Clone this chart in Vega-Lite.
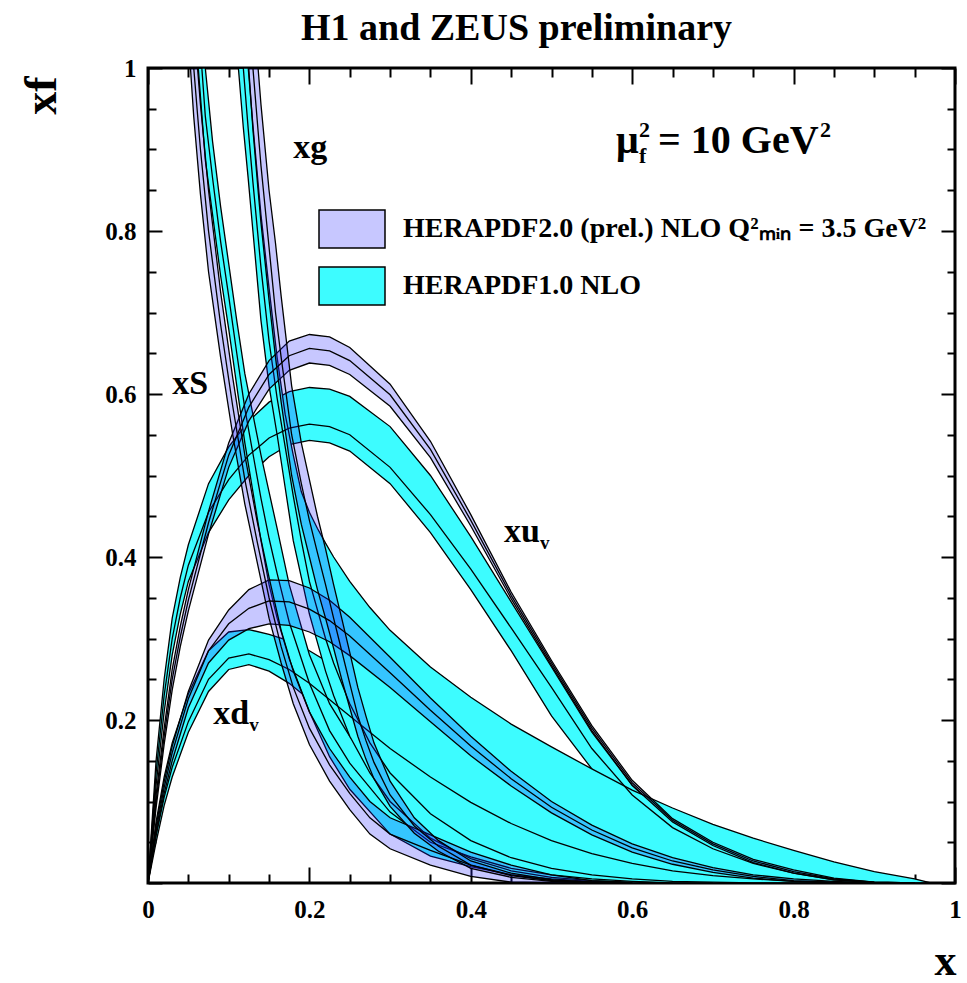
{
"$schema": "https://vega.github.io/schema/vega-lite/v6.json",
"width": 807, "height": 815,
"autosize": {"type": "none"},
"padding": {"left": 148, "top": 68, "right": 12, "bottom": 100},
"background": "white",
"title": {"text": "H1 and ZEUS preliminary", "font": "Liberation Serif", "fontWeight": "bold", "fontSize": 38, "color": "black", "anchor": "middle", "dx": -35, "offset": 8},
"config": {"view": {"stroke": "black", "strokeWidth": 3}, "font": "Liberation Serif"},
"resolve": {"axis": {"x": "independent", "y": "independent"}},
"datasets": {"bands": [
{"pdf":"uv","set":"v2","x":0,"lo":0,"mid":0,"hi":0},
{"pdf":"uv","set":"v2","x":0.01,"lo":0.092,"mid":0.1,"hi":0.108},
{"pdf":"uv","set":"v2","x":0.02,"lo":0.17,"mid":0.18,"hi":0.19},
{"pdf":"uv","set":"v2","x":0.03,"lo":0.237,"mid":0.25,"hi":0.262},
{"pdf":"uv","set":"v2","x":0.04,"lo":0.29,"mid":0.302,"hi":0.315},
{"pdf":"uv","set":"v2","x":0.05,"lo":0.334,"mid":0.347,"hi":0.36},
{"pdf":"uv","set":"v2","x":0.075,"lo":0.428,"mid":0.442,"hi":0.456},
{"pdf":"uv","set":"v2","x":0.1,"lo":0.51,"mid":0.525,"hi":0.54},
{"pdf":"uv","set":"v2","x":0.125,"lo":0.567,"mid":0.584,"hi":0.6},
{"pdf":"uv","set":"v2","x":0.15,"lo":0.606,"mid":0.624,"hi":0.641},
{"pdf":"uv","set":"v2","x":0.175,"lo":0.629,"mid":0.647,"hi":0.665},
{"pdf":"uv","set":"v2","x":0.2,"lo":0.638,"mid":0.656,"hi":0.673},
{"pdf":"uv","set":"v2","x":0.225,"lo":0.635,"mid":0.653,"hi":0.67},
{"pdf":"uv","set":"v2","x":0.25,"lo":0.624,"mid":0.641,"hi":0.657},
{"pdf":"uv","set":"v2","x":0.3,"lo":0.585,"mid":0.599,"hi":0.612},
{"pdf":"uv","set":"v2","x":0.35,"lo":0.522,"mid":0.532,"hi":0.542},
{"pdf":"uv","set":"v2","x":0.4,"lo":0.438,"mid":0.445,"hi":0.452},
{"pdf":"uv","set":"v2","x":0.45,"lo":0.349,"mid":0.353,"hi":0.357},
{"pdf":"uv","set":"v2","x":0.5,"lo":0.267,"mid":0.27,"hi":0.273},
{"pdf":"uv","set":"v2","x":0.55,"lo":0.187,"mid":0.19,"hi":0.193},
{"pdf":"uv","set":"v2","x":0.6,"lo":0.12,"mid":0.123,"hi":0.126},
{"pdf":"uv","set":"v2","x":0.65,"lo":0.075,"mid":0.077,"hi":0.079},
{"pdf":"uv","set":"v2","x":0.7,"lo":0.046,"mid":0.048,"hi":0.05},
{"pdf":"uv","set":"v2","x":0.75,"lo":0.025,"mid":0.027,"hi":0.029},
{"pdf":"uv","set":"v2","x":0.8,"lo":0.012,"mid":0.014,"hi":0.016},
{"pdf":"uv","set":"v2","x":0.85,"lo":0.004,"mid":0.005,"hi":0.006},
{"pdf":"uv","set":"v2","x":0.9,"lo":0,"mid":0.001,"hi":0.001},
{"pdf":"uv","set":"v2","x":0.95,"lo":0,"mid":0,"hi":0},
{"pdf":"uv","set":"v1","x":0,"lo":0,"mid":0,"hi":0},
{"pdf":"uv","set":"v1","x":0.01,"lo":0.12,"mid":0.135,"hi":0.15},
{"pdf":"uv","set":"v1","x":0.02,"lo":0.21,"mid":0.23,"hi":0.25},
{"pdf":"uv","set":"v1","x":0.03,"lo":0.28,"mid":0.3,"hi":0.325},
{"pdf":"uv","set":"v1","x":0.04,"lo":0.33,"mid":0.35,"hi":0.375},
{"pdf":"uv","set":"v1","x":0.05,"lo":0.37,"mid":0.39,"hi":0.415},
{"pdf":"uv","set":"v1","x":0.075,"lo":0.43,"mid":0.455,"hi":0.49},
{"pdf":"uv","set":"v1","x":0.1,"lo":0.47,"mid":0.495,"hi":0.535},
{"pdf":"uv","set":"v1","x":0.125,"lo":0.5,"mid":0.525,"hi":0.567},
{"pdf":"uv","set":"v1","x":0.15,"lo":0.523,"mid":0.546,"hi":0.59},
{"pdf":"uv","set":"v1","x":0.175,"lo":0.538,"mid":0.558,"hi":0.603},
{"pdf":"uv","set":"v1","x":0.2,"lo":0.543,"mid":0.563,"hi":0.608},
{"pdf":"uv","set":"v1","x":0.225,"lo":0.54,"mid":0.56,"hi":0.606},
{"pdf":"uv","set":"v1","x":0.25,"lo":0.53,"mid":0.55,"hi":0.597},
{"pdf":"uv","set":"v1","x":0.3,"lo":0.49,"mid":0.51,"hi":0.56},
{"pdf":"uv","set":"v1","x":0.35,"lo":0.43,"mid":0.452,"hi":0.5},
{"pdf":"uv","set":"v1","x":0.4,"lo":0.36,"mid":0.385,"hi":0.425},
{"pdf":"uv","set":"v1","x":0.45,"lo":0.285,"mid":0.313,"hi":0.345},
{"pdf":"uv","set":"v1","x":0.5,"lo":0.205,"mid":0.24,"hi":0.265},
{"pdf":"uv","set":"v1","x":0.55,"lo":0.14,"mid":0.165,"hi":0.185},
{"pdf":"uv","set":"v1","x":0.6,"lo":0.088,"mid":0.108,"hi":0.12},
{"pdf":"uv","set":"v1","x":0.65,"lo":0.052,"mid":0.068,"hi":0.075},
{"pdf":"uv","set":"v1","x":0.7,"lo":0.03,"mid":0.042,"hi":0.046},
{"pdf":"uv","set":"v1","x":0.75,"lo":0.016,"mid":0.024,"hi":0.026},
{"pdf":"uv","set":"v1","x":0.8,"lo":0.007,"mid":0.012,"hi":0.013},
{"pdf":"uv","set":"v1","x":0.85,"lo":0.002,"mid":0.004,"hi":0.005},
{"pdf":"uv","set":"v1","x":0.9,"lo":0,"mid":0.001,"hi":0.001},
{"pdf":"uv","set":"v1","x":0.95,"lo":0,"mid":0,"hi":0},
{"pdf":"dv","set":"v2","x":0,"lo":0,"mid":0,"hi":0},
{"pdf":"dv","set":"v2","x":0.01,"lo":0.06,"mid":0.065,"hi":0.07},
{"pdf":"dv","set":"v2","x":0.02,"lo":0.11,"mid":0.117,"hi":0.124},
{"pdf":"dv","set":"v2","x":0.03,"lo":0.15,"mid":0.16,"hi":0.168},
{"pdf":"dv","set":"v2","x":0.05,"lo":0.215,"mid":0.226,"hi":0.235},
{"pdf":"dv","set":"v2","x":0.075,"lo":0.27,"mid":0.285,"hi":0.298},
{"pdf":"dv","set":"v2","x":0.1,"lo":0.298,"mid":0.318,"hi":0.335},
{"pdf":"dv","set":"v2","x":0.125,"lo":0.312,"mid":0.337,"hi":0.36},
{"pdf":"dv","set":"v2","x":0.15,"lo":0.318,"mid":0.346,"hi":0.372},
{"pdf":"dv","set":"v2","x":0.175,"lo":0.316,"mid":0.345,"hi":0.371},
{"pdf":"dv","set":"v2","x":0.2,"lo":0.308,"mid":0.336,"hi":0.362},
{"pdf":"dv","set":"v2","x":0.225,"lo":0.296,"mid":0.322,"hi":0.347},
{"pdf":"dv","set":"v2","x":0.25,"lo":0.279,"mid":0.303,"hi":0.326},
{"pdf":"dv","set":"v2","x":0.3,"lo":0.24,"mid":0.258,"hi":0.277},
{"pdf":"dv","set":"v2","x":0.35,"lo":0.198,"mid":0.212,"hi":0.227},
{"pdf":"dv","set":"v2","x":0.4,"lo":0.156,"mid":0.168,"hi":0.18},
{"pdf":"dv","set":"v2","x":0.45,"lo":0.119,"mid":0.128,"hi":0.137},
{"pdf":"dv","set":"v2","x":0.5,"lo":0.086,"mid":0.093,"hi":0.1},
{"pdf":"dv","set":"v2","x":0.55,"lo":0.059,"mid":0.065,"hi":0.071},
{"pdf":"dv","set":"v2","x":0.6,"lo":0.038,"mid":0.043,"hi":0.048},
{"pdf":"dv","set":"v2","x":0.65,"lo":0.023,"mid":0.027,"hi":0.031},
{"pdf":"dv","set":"v2","x":0.7,"lo":0.013,"mid":0.016,"hi":0.019},
{"pdf":"dv","set":"v2","x":0.75,"lo":0.006,"mid":0.008,"hi":0.01},
{"pdf":"dv","set":"v2","x":0.8,"lo":0.002,"mid":0.003,"hi":0.005},
{"pdf":"dv","set":"v2","x":0.85,"lo":0,"mid":0.001,"hi":0.002},
{"pdf":"dv","set":"v2","x":0.9,"lo":0,"mid":0,"hi":0},
{"pdf":"dv","set":"v1","x":0,"lo":0,"mid":0,"hi":0},
{"pdf":"dv","set":"v1","x":0.01,"lo":0.05,"mid":0.058,"hi":0.075},
{"pdf":"dv","set":"v1","x":0.02,"lo":0.095,"mid":0.105,"hi":0.13},
{"pdf":"dv","set":"v1","x":0.03,"lo":0.13,"mid":0.142,"hi":0.172},
{"pdf":"dv","set":"v1","x":0.05,"lo":0.185,"mid":0.198,"hi":0.232},
{"pdf":"dv","set":"v1","x":0.075,"lo":0.235,"mid":0.25,"hi":0.285},
{"pdf":"dv","set":"v1","x":0.1,"lo":0.262,"mid":0.276,"hi":0.308},
{"pdf":"dv","set":"v1","x":0.125,"lo":0.268,"mid":0.281,"hi":0.311},
{"pdf":"dv","set":"v1","x":0.15,"lo":0.26,"mid":0.274,"hi":0.305},
{"pdf":"dv","set":"v1","x":0.175,"lo":0.245,"mid":0.262,"hi":0.297},
{"pdf":"dv","set":"v1","x":0.2,"lo":0.225,"mid":0.245,"hi":0.285},
{"pdf":"dv","set":"v1","x":0.25,"lo":0.182,"mid":0.205,"hi":0.255},
{"pdf":"dv","set":"v1","x":0.3,"lo":0.14,"mid":0.165,"hi":0.225},
{"pdf":"dv","set":"v1","x":0.35,"lo":0.104,"mid":0.13,"hi":0.194},
{"pdf":"dv","set":"v1","x":0.4,"lo":0.074,"mid":0.099,"hi":0.164},
{"pdf":"dv","set":"v1","x":0.45,"lo":0.05,"mid":0.073,"hi":0.136},
{"pdf":"dv","set":"v1","x":0.5,"lo":0.033,"mid":0.052,"hi":0.11},
{"pdf":"dv","set":"v1","x":0.55,"lo":0.02,"mid":0.036,"hi":0.086},
{"pdf":"dv","set":"v1","x":0.6,"lo":0.011,"mid":0.024,"hi":0.065},
{"pdf":"dv","set":"v1","x":0.65,"lo":0.006,"mid":0.015,"hi":0.047},
{"pdf":"dv","set":"v1","x":0.7,"lo":0.003,"mid":0.009,"hi":0.032},
{"pdf":"dv","set":"v1","x":0.75,"lo":0.001,"mid":0.005,"hi":0.02},
{"pdf":"dv","set":"v1","x":0.8,"lo":0,"mid":0.002,"hi":0.011},
{"pdf":"dv","set":"v1","x":0.85,"lo":0,"mid":0.001,"hi":0.005},
{"pdf":"dv","set":"v1","x":0.9,"lo":0,"mid":0,"hi":0.002},
{"pdf":"dv","set":"v1","x":0.95,"lo":0,"mid":0,"hi":0},
{"pdf":"S","set":"v2","x":0.0526,"lo":1.0,"mid":1.0,"hi":1.0},
{"pdf":"S","set":"v2","x":0.0567,"lo":0.94,"mid":1.0,"hi":1.0},
{"pdf":"S","set":"v2","x":0.0614,"lo":0.886,"mid":0.943,"hi":1.0},
{"pdf":"S","set":"v2","x":0.065,"lo":0.845,"mid":0.9,"hi":0.955},
{"pdf":"S","set":"v2","x":0.075,"lo":0.75,"mid":0.8,"hi":0.85},
{"pdf":"S","set":"v2","x":0.09,"lo":0.645,"mid":0.685,"hi":0.725},
{"pdf":"S","set":"v2","x":0.105,"lo":0.55,"mid":0.585,"hi":0.62},
{"pdf":"S","set":"v2","x":0.12,"lo":0.465,"mid":0.495,"hi":0.525},
{"pdf":"S","set":"v2","x":0.135,"lo":0.395,"mid":0.42,"hi":0.445},
{"pdf":"S","set":"v2","x":0.15,"lo":0.325,"mid":0.35,"hi":0.375},
{"pdf":"S","set":"v2","x":0.165,"lo":0.27,"mid":0.29,"hi":0.31},
{"pdf":"S","set":"v2","x":0.18,"lo":0.22,"mid":0.24,"hi":0.26},
{"pdf":"S","set":"v2","x":0.2,"lo":0.17,"mid":0.19,"hi":0.21},
{"pdf":"S","set":"v2","x":0.225,"lo":0.125,"mid":0.145,"hi":0.165},
{"pdf":"S","set":"v2","x":0.25,"lo":0.09,"mid":0.11,"hi":0.13},
{"pdf":"S","set":"v2","x":0.275,"lo":0.06,"mid":0.08,"hi":0.1},
{"pdf":"S","set":"v2","x":0.3,"lo":0.042,"mid":0.06,"hi":0.08},
{"pdf":"S","set":"v2","x":0.35,"lo":0.022,"mid":0.04,"hi":0.059},
{"pdf":"S","set":"v2","x":0.4,"lo":0.008,"mid":0.022,"hi":0.038},
{"pdf":"S","set":"v2","x":0.45,"lo":0.001,"mid":0.01,"hi":0.022},
{"pdf":"S","set":"v2","x":0.5,"lo":0,"mid":0.003,"hi":0.01},
{"pdf":"S","set":"v2","x":0.55,"lo":0,"mid":0.001,"hi":0.003},
{"pdf":"S","set":"v2","x":0.6,"lo":0,"mid":0,"hi":0},
{"pdf":"S","set":"v1","x":0.0623,"lo":1.0,"mid":1.0,"hi":1.0},
{"pdf":"S","set":"v1","x":0.0667,"lo":0.943,"mid":1.0,"hi":1.0},
{"pdf":"S","set":"v1","x":0.071,"lo":0.887,"mid":0.941,"hi":1.0},
{"pdf":"S","set":"v1","x":0.08,"lo":0.82,"mid":0.865,"hi":0.91},
{"pdf":"S","set":"v1","x":0.09,"lo":0.745,"mid":0.787,"hi":0.83},
{"pdf":"S","set":"v1","x":0.1,"lo":0.68,"mid":0.72,"hi":0.76},
{"pdf":"S","set":"v1","x":0.11,"lo":0.61,"mid":0.65,"hi":0.69},
{"pdf":"S","set":"v1","x":0.12,"lo":0.54,"mid":0.582,"hi":0.625},
{"pdf":"S","set":"v1","x":0.13,"lo":0.48,"mid":0.527,"hi":0.575},
{"pdf":"S","set":"v1","x":0.14,"lo":0.42,"mid":0.472,"hi":0.525},
{"pdf":"S","set":"v1","x":0.15,"lo":0.366,"mid":0.423,"hi":0.48},
{"pdf":"S","set":"v1","x":0.16,"lo":0.325,"mid":0.38,"hi":0.435},
{"pdf":"S","set":"v1","x":0.175,"lo":0.275,"mid":0.32,"hi":0.366},
{"pdf":"S","set":"v1","x":0.2,"lo":0.21,"mid":0.245,"hi":0.28},
{"pdf":"S","set":"v1","x":0.225,"lo":0.155,"mid":0.187,"hi":0.22},
{"pdf":"S","set":"v1","x":0.25,"lo":0.115,"mid":0.147,"hi":0.18},
{"pdf":"S","set":"v1","x":0.3,"lo":0.06,"mid":0.087,"hi":0.115},
{"pdf":"S","set":"v1","x":0.35,"lo":0.033,"mid":0.05,"hi":0.07},
{"pdf":"S","set":"v1","x":0.4,"lo":0.02,"mid":0.032,"hi":0.045},
{"pdf":"S","set":"v1","x":0.45,"lo":0.01,"mid":0.018,"hi":0.027},
{"pdf":"S","set":"v1","x":0.5,"lo":0.005,"mid":0.01,"hi":0.016},
{"pdf":"S","set":"v1","x":0.55,"lo":0.002,"mid":0.005,"hi":0.008},
{"pdf":"S","set":"v1","x":0.6,"lo":0,"mid":0.002,"hi":0.004},
{"pdf":"S","set":"v1","x":0.65,"lo":0,"mid":0,"hi":0.001},
{"pdf":"S","set":"v1","x":0.7,"lo":0,"mid":0,"hi":0},
{"pdf":"g","set":"v2","x":0.1248,"lo":1.0,"mid":1.0,"hi":1.0},
{"pdf":"g","set":"v2","x":0.13,"lo":0.925,"mid":1.0,"hi":1.0},
{"pdf":"g","set":"v2","x":0.1364,"lo":0.85,"mid":0.923,"hi":1.0},
{"pdf":"g","set":"v2","x":0.14,"lo":0.81,"mid":0.88,"hi":0.955},
{"pdf":"g","set":"v2","x":0.15,"lo":0.715,"mid":0.78,"hi":0.85},
{"pdf":"g","set":"v2","x":0.158,"lo":0.645,"mid":0.7,"hi":0.785},
{"pdf":"g","set":"v2","x":0.165,"lo":0.59,"mid":0.645,"hi":0.72},
{"pdf":"g","set":"v2","x":0.178,"lo":0.5,"mid":0.55,"hi":0.61},
{"pdf":"g","set":"v2","x":0.19,"lo":0.44,"mid":0.49,"hi":0.54},
{"pdf":"g","set":"v2","x":0.2,"lo":0.4,"mid":0.445,"hi":0.495},
{"pdf":"g","set":"v2","x":0.21,"lo":0.36,"mid":0.405,"hi":0.45},
{"pdf":"g","set":"v2","x":0.22,"lo":0.325,"mid":0.366,"hi":0.41},
{"pdf":"g","set":"v2","x":0.23,"lo":0.288,"mid":0.325,"hi":0.366},
{"pdf":"g","set":"v2","x":0.24,"lo":0.25,"mid":0.285,"hi":0.325},
{"pdf":"g","set":"v2","x":0.25,"lo":0.215,"mid":0.245,"hi":0.283},
{"pdf":"g","set":"v2","x":0.26,"lo":0.18,"mid":0.205,"hi":0.24},
{"pdf":"g","set":"v2","x":0.27,"lo":0.152,"mid":0.175,"hi":0.205},
{"pdf":"g","set":"v2","x":0.28,"lo":0.128,"mid":0.148,"hi":0.172},
{"pdf":"g","set":"v2","x":0.3,"lo":0.094,"mid":0.108,"hi":0.125},
{"pdf":"g","set":"v2","x":0.33,"lo":0.061,"mid":0.07,"hi":0.08},
{"pdf":"g","set":"v2","x":0.36,"lo":0.039,"mid":0.045,"hi":0.052},
{"pdf":"g","set":"v2","x":0.4,"lo":0.018,"mid":0.022,"hi":0.027},
{"pdf":"g","set":"v2","x":0.45,"lo":0.007,"mid":0.009,"hi":0.012},
{"pdf":"g","set":"v2","x":0.5,"lo":0.002,"mid":0.003,"hi":0.004},
{"pdf":"g","set":"v2","x":0.55,"lo":0,"mid":0.001,"hi":0.001},
{"pdf":"g","set":"v2","x":0.6,"lo":0,"mid":0,"hi":0},
{"pdf":"g","set":"v1","x":0.112,"lo":1.0,"mid":1.0,"hi":1.0},
{"pdf":"g","set":"v1","x":0.1181,"lo":0.927,"mid":1.0,"hi":1.0},
{"pdf":"g","set":"v1","x":0.1242,"lo":0.864,"mid":0.925,"hi":1.0},
{"pdf":"g","set":"v1","x":0.13,"lo":0.8,"mid":0.86,"hi":0.93},
{"pdf":"g","set":"v1","x":0.14,"lo":0.69,"mid":0.755,"hi":0.82},
{"pdf":"g","set":"v1","x":0.15,"lo":0.61,"mid":0.665,"hi":0.73},
{"pdf":"g","set":"v1","x":0.16,"lo":0.55,"mid":0.595,"hi":0.645},
{"pdf":"g","set":"v1","x":0.17,"lo":0.485,"mid":0.535,"hi":0.575},
{"pdf":"g","set":"v1","x":0.18,"lo":0.42,"mid":0.475,"hi":0.525},
{"pdf":"g","set":"v1","x":0.19,"lo":0.375,"mid":0.42,"hi":0.48},
{"pdf":"g","set":"v1","x":0.2,"lo":0.33,"mid":0.37,"hi":0.455},
{"pdf":"g","set":"v1","x":0.21,"lo":0.295,"mid":0.335,"hi":0.435},
{"pdf":"g","set":"v1","x":0.22,"lo":0.26,"mid":0.3,"hi":0.417},
{"pdf":"g","set":"v1","x":0.23,"lo":0.23,"mid":0.27,"hi":0.4},
{"pdf":"g","set":"v1","x":0.25,"lo":0.18,"mid":0.22,"hi":0.37},
{"pdf":"g","set":"v1","x":0.275,"lo":0.135,"mid":0.172,"hi":0.338},
{"pdf":"g","set":"v1","x":0.3,"lo":0.1,"mid":0.135,"hi":0.31},
{"pdf":"g","set":"v1","x":0.35,"lo":0.055,"mid":0.085,"hi":0.265},
{"pdf":"g","set":"v1","x":0.4,"lo":0.03,"mid":0.052,"hi":0.228},
{"pdf":"g","set":"v1","x":0.45,"lo":0.015,"mid":0.031,"hi":0.195},
{"pdf":"g","set":"v1","x":0.5,"lo":0.007,"mid":0.018,"hi":0.167},
{"pdf":"g","set":"v1","x":0.55,"lo":0.003,"mid":0.01,"hi":0.14},
{"pdf":"g","set":"v1","x":0.6,"lo":0.001,"mid":0.005,"hi":0.114},
{"pdf":"g","set":"v1","x":0.65,"lo":0,"mid":0.002,"hi":0.092},
{"pdf":"g","set":"v1","x":0.7,"lo":0,"mid":0.001,"hi":0.072},
{"pdf":"g","set":"v1","x":0.75,"lo":0,"mid":0,"hi":0.055},
{"pdf":"g","set":"v1","x":0.8,"lo":0,"mid":0,"hi":0.04},
{"pdf":"g","set":"v1","x":0.85,"lo":0,"mid":0,"hi":0.026},
{"pdf":"g","set":"v1","x":0.9,"lo":0,"mid":0,"hi":0.014},
{"pdf":"g","set":"v1","x":0.95,"lo":0,"mid":0,"hi":0.005},
{"pdf":"g","set":"v1","x":0.97,"lo":0,"mid":0,"hi":0}
]},
"layer": [
{
 "data": {"name": "bands"},
 "transform": [{"filter": "datum.set == 'v1'"}],
 "mark": {"type": "area", "stroke": "black", "strokeWidth": 1.3, "clip": true},
 "encoding": {
  "x": {"field": "x", "type": "quantitative", "scale": {"domain": [0, 1], "nice": false, "zero": false},
        "axis": {"orient": "bottom", "values": [0, 0.2, 0.4, 0.6, 0.8, 1], "format": "~g", "ticks": false, "domain": false, "grid": false, "labelPadding": 14, "labelFont": "Liberation Serif", "labelFontWeight": "bold", "labelFontSize": 25, "labelColor": "black", "labelFlush": false, "labelOverlap": false, "title": "x", "titleFont": "Liberation Serif", "titleFontWeight": "bold", "titleFontSize": 44, "titleColor": "black", "titleX": 797, "titleY": 78, "titleAlign": "center", "titleBaseline": "middle", "titleAngle": 0}},
  "y": {"field": "lo", "type": "quantitative", "stack": null, "scale": {"domain": [0, 1], "nice": false, "zero": false, "clamp": true},
        "axis": {"orient": "left", "values": [0.2, 0.4, 0.6, 0.8, 1], "format": "~g", "ticks": false, "domain": false, "grid": false, "labelPadding": 12, "labelFont": "Liberation Serif", "labelFontWeight": "bold", "labelFontSize": 25, "labelColor": "black", "labelFlush": false, "labelOverlap": false, "title": "xf", "titleFont": "Liberation Serif", "titleFontWeight": "bold", "titleFontSize": 46, "titleColor": "black", "titleX": -107, "titleY": 27, "titleAngle": -90, "titleAlign": "center", "titleBaseline": "middle"}},
  "y2": {"field": "hi"},
  "detail": {"field": "pdf"},
  "fill": {"field": "set", "type": "nominal", "scale": {"domain": ["v2", "v1"], "range": ["rgba(30,30,255,0.25)", "#3dfcff"]},
           "legend": {"orient": "none", "legendX": 170, "legendY": 127, "title": null, "padding": 0, "symbolType": "M-1,-0.576H1V0.576H-1Z", "symbolSize": 4356, "symbolStrokeColor": "black", "symbolStrokeWidth": 1.5, "symbolOpacity": 1, "labelFont": "Liberation Serif", "labelFontWeight": "bold", "labelFontSize": 28, "labelColor": "black", "labelOffset": 17, "rowPadding": -8, "labelLimit": 800, "labelExpr": "datum.value == 'v2' ? 'HERAPDF2.0 (prel.) NLO Q²ₘᵢₙ = 3.5 GeV²' : 'HERAPDF1.0 NLO'"}}
 }
},
{
 "data": {"name": "bands"},
 "transform": [{"filter": "datum.set == 'v1'"}],
 "mark": {"type": "line", "stroke": "black", "strokeWidth": 1.3, "clip": true},
 "encoding": {
  "x": {"field": "x", "type": "quantitative", "axis": {"orient": "bottom", "values": [0, 0.2, 0.4, 0.6, 0.8, 1], "labels": false, "domain": false, "grid": false, "tickSize": -16, "tickWidth": 2, "tickColor": "black", "title": null}},
  "y": {"field": "mid", "type": "quantitative", "axis": {"orient": "left", "values": [0, 0.2, 0.4, 0.6, 0.8, 1], "labels": false, "domain": false, "grid": false, "tickSize": -14, "tickWidth": 2, "tickColor": "black", "title": null}},
  "detail": {"field": "pdf"}
 }
},
{
 "data": {"name": "bands"},
 "transform": [{"filter": "datum.set == 'v2'"}],
 "mark": {"type": "area", "stroke": "black", "strokeWidth": 1.3, "clip": true},
 "encoding": {
  "x": {"field": "x", "type": "quantitative", "axis": {"orient": "bottom", "values": [0.05,0.1,0.15,0.25,0.3,0.35,0.45,0.5,0.55,0.65,0.7,0.75,0.85,0.9,0.95], "labels": false, "domain": false, "grid": false, "tickSize": -9, "tickWidth": 2, "tickColor": "black", "title": null}},
  "y": {"field": "lo", "type": "quantitative", "stack": null, "axis": {"orient": "left", "values": [0.05,0.1,0.15,0.25,0.3,0.35,0.45,0.5,0.55,0.65,0.7,0.75,0.85,0.9,0.95], "labels": false, "domain": false, "grid": false, "tickSize": -8, "tickWidth": 2, "tickColor": "black", "title": null}},
  "y2": {"field": "hi"},
  "detail": {"field": "pdf"},
  "fill": {"field": "set", "type": "nominal", "scale": {"domain": ["v2", "v1"], "range": ["rgba(30,30,255,0.25)", "#3dfcff"]},
           "legend": {"orient": "none", "legendX": 170, "legendY": 127, "title": null, "padding": 0, "symbolType": "M-1,-0.576H1V0.576H-1Z", "symbolSize": 4356, "symbolStrokeColor": "black", "symbolStrokeWidth": 1.5, "symbolOpacity": 1, "labelFont": "Liberation Serif", "labelFontWeight": "bold", "labelFontSize": 28, "labelColor": "black", "labelOffset": 17, "rowPadding": -8, "labelLimit": 800, "labelExpr": "datum.value == 'v2' ? 'HERAPDF2.0 (prel.) NLO Q²ₘᵢₙ = 3.5 GeV²' : 'HERAPDF1.0 NLO'"}}
 }
},
{
 "data": {"name": "bands"},
 "transform": [{"filter": "datum.set == 'v2'"}],
 "mark": {"type": "line", "stroke": "black", "strokeWidth": 1.3, "clip": true},
 "encoding": {
  "x": {"field": "x", "type": "quantitative", "axis": {"orient": "top", "values": [0, 0.2, 0.4, 0.6, 0.8, 1], "labels": false, "domain": false, "grid": false, "tickSize": -16, "tickWidth": 2, "tickColor": "black", "title": null}},
  "y": {"field": "mid", "type": "quantitative", "axis": {"orient": "right", "values": [0, 0.2, 0.4, 0.6, 0.8, 1], "labels": false, "domain": false, "grid": false, "tickSize": -14, "tickWidth": 2, "tickColor": "black", "title": null}},
  "detail": {"field": "pdf"}
 }
},
{
 "data": {"values": [{"label": "xg", "x": 0.18, "y": 0.889}, {"label": "xS", "x": 0.03, "y": 0.6}, {"label": "xu", "x": 0.441, "y": 0.418}, {"label": "xd", "x": 0.081, "y": 0.195}]},
 "mark": {"type": "text", "font": "Liberation Serif", "fontWeight": "bold", "fontSize": 34, "align": "left", "baseline": "alphabetic", "color": "black"},
 "encoding": {
  "x": {"field": "x", "type": "quantitative", "axis": {"orient": "top", "values": [0.05,0.1,0.15,0.25,0.3,0.35,0.45,0.5,0.55,0.65,0.7,0.75,0.85,0.9,0.95], "labels": false, "domain": false, "grid": false, "tickSize": -9, "tickWidth": 2, "tickColor": "black", "title": null}},
  "y": {"field": "y", "type": "quantitative", "axis": {"orient": "right", "values": [0.05,0.1,0.15,0.25,0.3,0.35,0.45,0.5,0.55,0.65,0.7,0.75,0.85,0.9,0.95], "labels": false, "domain": false, "grid": false, "tickSize": -8, "tickWidth": 2, "tickColor": "black", "title": null}},
  "text": {"field": "label"}
 }
},
{
 "data": {"values": [{"label": "v", "x": 0.441, "y": 0.418}, {"label": "v", "x": 0.081, "y": 0.195}]},
 "mark": {"type": "text", "font": "Liberation Serif", "fontWeight": "bold", "fontSize": 19, "align": "left", "baseline": "alphabetic", "color": "black", "dx": 36, "dy": 7},
 "encoding": {"x": {"field": "x", "type": "quantitative", "axis": null}, "y": {"field": "y", "type": "quantitative", "axis": null}, "text": {"field": "label"}}
},
{
 "data": {"values": [{"label": "μ", "x": 0.58, "y": 0.896}]},
 "mark": {"type": "text", "font": "Liberation Serif", "fontWeight": "bold", "fontSize": 40, "align": "left", "baseline": "alphabetic", "color": "black"},
 "encoding": {"x": {"field": "x", "type": "quantitative", "axis": null}, "y": {"field": "y", "type": "quantitative", "axis": null}, "text": {"field": "label"}}
},
{
 "data": {"values": [{"label": "2", "x": 0.58, "y": 0.896}]},
 "mark": {"type": "text", "font": "Liberation Serif", "fontWeight": "bold", "fontSize": 22, "align": "left", "baseline": "alphabetic", "color": "black", "dx": 23, "dy": -16},
 "encoding": {"x": {"field": "x", "type": "quantitative", "axis": null}, "y": {"field": "y", "type": "quantitative", "axis": null}, "text": {"field": "label"}}
},
{
 "data": {"values": [{"label": "f", "x": 0.58, "y": 0.896}]},
 "mark": {"type": "text", "font": "Liberation Serif", "fontWeight": "bold", "fontSize": 22, "align": "left", "baseline": "alphabetic", "color": "black", "dx": 23, "dy": 10},
 "encoding": {"x": {"field": "x", "type": "quantitative", "axis": null}, "y": {"field": "y", "type": "quantitative", "axis": null}, "text": {"field": "label"}}
},
{
 "data": {"values": [{"label": "= 10 GeV", "x": 0.58, "y": 0.896}]},
 "mark": {"type": "text", "font": "Liberation Serif", "fontWeight": "bold", "fontSize": 40, "align": "left", "baseline": "alphabetic", "color": "black", "dx": 42},
 "encoding": {"x": {"field": "x", "type": "quantitative", "axis": null}, "y": {"field": "y", "type": "quantitative", "axis": null}, "text": {"field": "label"}}
},
{
 "data": {"values": [{"label": "2", "x": 0.58, "y": 0.896}]},
 "mark": {"type": "text", "font": "Liberation Serif", "fontWeight": "bold", "fontSize": 22, "align": "left", "baseline": "alphabetic", "color": "black", "dx": 204, "dy": -16},
 "encoding": {"x": {"field": "x", "type": "quantitative", "axis": null}, "y": {"field": "y", "type": "quantitative", "axis": null}, "text": {"field": "label"}}
}
]
}
